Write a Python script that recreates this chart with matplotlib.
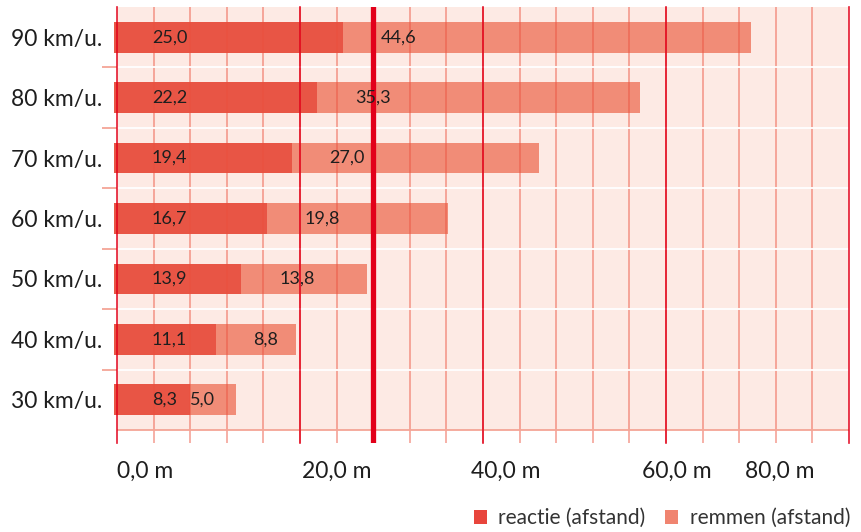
import numpy as np
import matplotlib
matplotlib.use('Agg')
import matplotlib.pyplot as plt
import matplotlib.transforms as mtransforms
from matplotlib.patches import Patch, Rectangle

plt.rcParams['font.family'] = ['Lato', 'DejaVu Sans']

# gegevens: stopafstand per snelheid (van onder naar boven)
snelheden = ['30 km/u.', '40 km/u.', '50 km/u.', '60 km/u.', '70 km/u.', '80 km/u.', '90 km/u.']
reactie = [8.3, 11.1, 13.9, 16.7, 19.4, 22.2, 25.0]
remmen = [5.0, 8.8, 13.8, 19.8, 27.0, 35.3, 44.6]
x_ticks = [0, 20, 40, 60, 80]
x_labels = ['0,0 m', '20,0 m', '40,0 m', '60,0 m', '80,0 m']
grens = 28.0

# kleuren
donker = '#E85545'
licht = '#F18C77'
achtergrond = '#FDEAE4'
rood = '#E2001A'
lijn_licht = '#F4A596'
tekst = '#1E1E1E'

# plaats van de as-labels (links uitgelijnd)
x_label_pos = [0, 20.2, 38.7, 57.4, 68.6]
x0 = -0.33


def fmt(v):
    return f'{v:.1f}'.replace('.', ',')


fig = plt.figure(figsize=(8.61, 5.32), dpi=100)
ax = fig.add_axes([114 / 861, 89 / 532, 736 / 861, 436 / 532])
ax.patch.set_visible(False)

y = np.arange(len(snelheden))
ax.set_xlim(x0, 80.1)
ax.set_ylim(6.5 - 436 / 60.43, 6.5)

# achtergrond
ax.add_patch(Rectangle((0, -0.5), 80, 7, facecolor=achtergrond, edgecolor='none', zorder=0))

# balken
ax.barh(y, reactie, left=x0, height=0.51, color=donker, zorder=2)
ax.barh(y, remmen, left=x0 + np.array(reactie), height=0.51, color=licht, zorder=2)

# rasterlijnen
for v in np.arange(4, 80, 4):
    ax.axvline(v, color='#EB503C', alpha=0.45, lw=1.4, zorder=3)
ax.hlines(y[:-1] + 0.5, 0, 80, color='white', lw=1.3, zorder=3.5)
ax.hlines([-0.5], 0, 80, color=lijn_licht, lw=1.3, zorder=3.5)
ax.hlines(y[:-1] + 0.5, -1.64, 0, color=lijn_licht, lw=1.3, clip_on=False)
for v in x_ticks:
    ax.axvline(v, color=rood, alpha=0.9, lw=1.2, zorder=4, clip_on=False)
ax.axvline(grens, color=rood, lw=3.8, zorder=5)

# waarden in de balken
for i in range(len(y)):
    ax.text(3.8, y[i], fmt(reactie[i]), ha='left', va='center',
            fontsize=13, color=tekst, zorder=6)
    off = 4.15 if remmen[i] > 8 else 0.05
    ax.text(x0 + reactie[i] + off, y[i], fmt(remmen[i]), ha='left', va='center',
            fontsize=13, color=tekst, zorder=6)

# assen
ax.set_yticks(y)
ax.set_yticklabels(snelheden, fontsize=16.5, color=tekst)
ax.tick_params(axis='y', length=0, pad=8.6)
ax.set_xticks([])
for s in ax.spines.values():
    s.set_visible(False)

trans = mtransforms.blended_transform_factory(ax.transData, ax.transAxes)
for pos, lab in zip(x_label_pos, x_labels):
    ax.text(pos, -0.041, lab, transform=trans, ha='left', va='top',
            fontsize=16.5, color=tekst)

# legenda
handles = [Patch(facecolor='#E8453C', label='reactie (afstand)'),
           Patch(facecolor='#F08470', label='remmen (afstand)')]
leg = fig.legend(handles=handles, loc='center right', ncol=2, frameon=False,
                 bbox_to_anchor=(850 / 861, 1 - 518 / 532), borderaxespad=0, borderpad=0,
                 fontsize=15, handlelength=0.65, handleheight=0.65,
                 handletextpad=0.55, columnspacing=0.9)
for t in leg.get_texts():
    t.set_color('#333333')

plt.savefig('out.png', dpi=100, facecolor='white')
